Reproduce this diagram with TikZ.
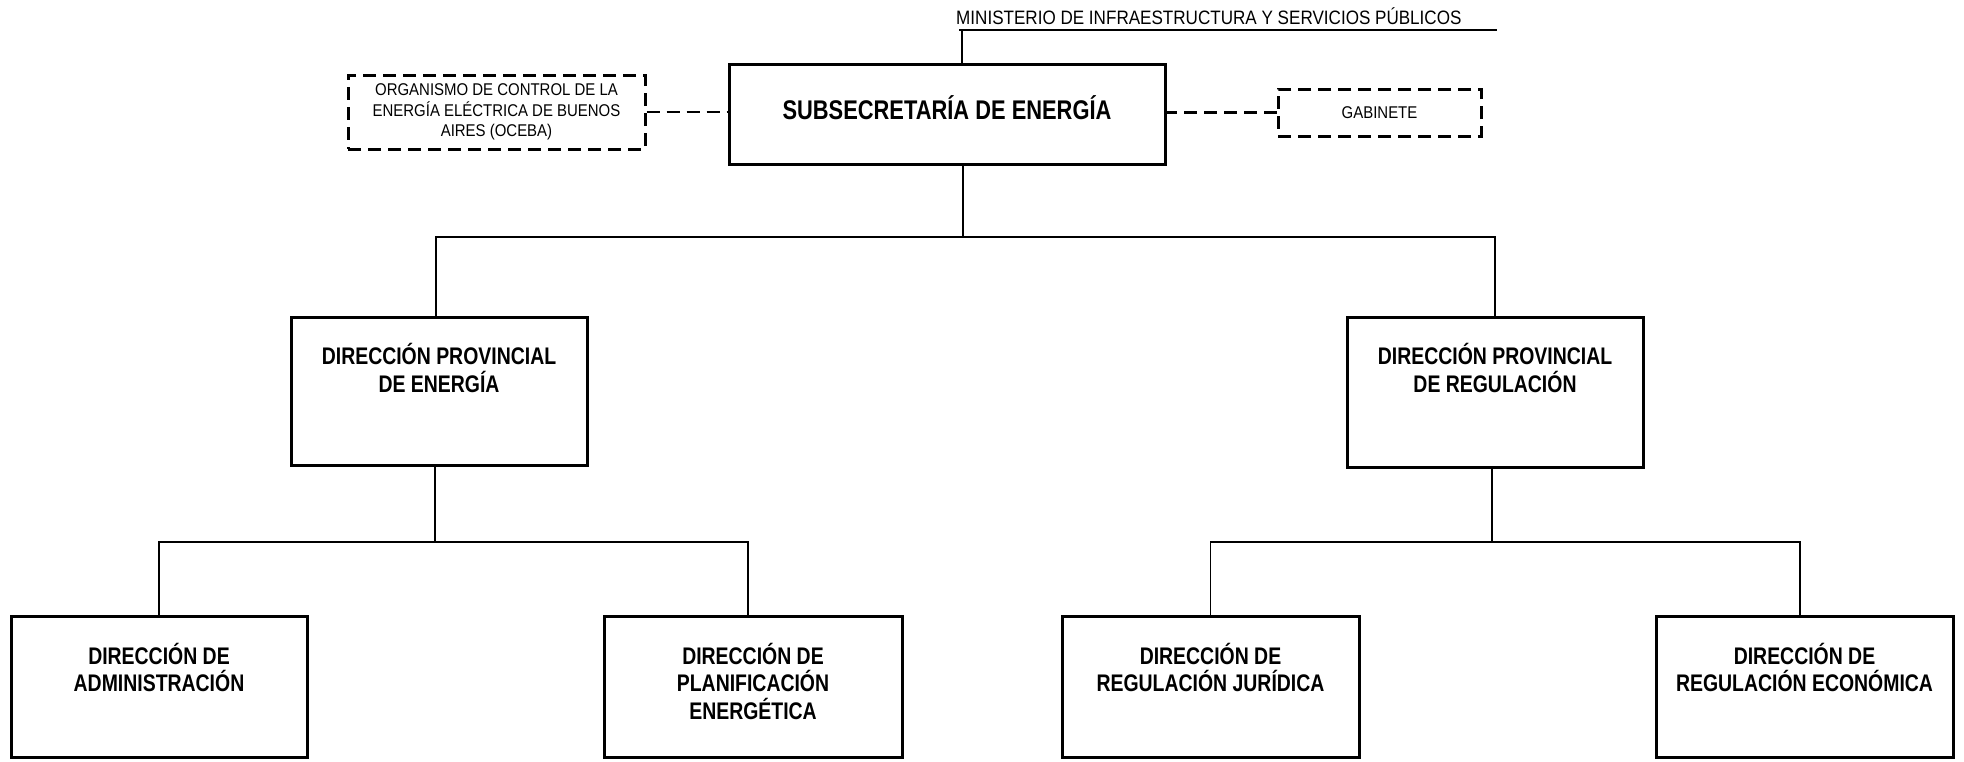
\documentclass[tikz,border=0pt]{standalone}
\usepackage{fontspec}
\setmainfont{Liberation Sans}[FakeStretch=0.88]
\newfontfamily\narrowbold{Liberation Sans}[FakeStretch=0.81]
\usetikzlibrary{positioning}
\tikzset{
    x=1pt, y=-1pt, % one unit is one pixel of the chart, y grows downwards
    link/.style={line width=1.3pt}, % thin lines between the units
    dashlink/.style={line width=2.6pt, dash pattern=on 13pt off 7pt}, % dashed staff lines
    every node/.style={inner sep=0pt}, % no padding round the texts
}

\begin{document}
\begin{tikzpicture}[
                                unit/.style={draw, line width=3pt, fill=white},
                                staff/.style={draw, line width=3pt, dash pattern=on 13pt off 7pt, align=center,
                                    font=\fontsize{17}{20.5}\selectfont},
                                dirbox/.style={unit, minimum width=296pt, minimum height=148pt},
                                subbox/.style={unit, minimum width=296pt, minimum height=141pt},
                                dirtext/.style={align=center, font=\narrowbold\bfseries\fontsize{24}{27.5}\selectfont},
                            ]
                            \useasboundingbox (0,0) rectangle (1964,761);
                            % top level
                            \node[unit, minimum width=436pt, minimum height=100pt, text height=22pt, text depth=12pt,
                                font=\narrowbold\bfseries\fontsize{27}{32}\selectfont] (sub) at (947,114) {SUBSECRETARÍA DE ENERGÍA};
                            \node[staff, minimum width=297pt, minimum height=74pt] (ocb) at (496.5,112)
                                {ORGANISMO DE CONTROL DE LA\\ENERGÍA ELÉCTRICA DE BUENOS\\AIRES (OCEBA)};
                            \node[staff, minimum width=203pt, minimum height=47pt] (gab) at (1379.5,112.5) {GABINETE};
                            \node[anchor=base west, font=\fontsize{19.4}{23}\selectfont] (min) at (956,24)
                                {MINISTERIO DE INFRAESTRUCTURA Y SERVICIOS PÚBLICOS};
                            \coordinate (mina) at (959,30);
                            \coordinate (minb) at (1497,30);
                            \coordinate (minc) at (962,30);
                            % direcciones provinciales
                            \node[dirbox] (dpe) at (439,391) {};
                            \node[dirbox, minimum height=150pt] (dpr) at (1495,392) {};
                            \node[dirtext, below=28pt of dpe.north] (dpet) {DIRECCIÓN PROVINCIAL\\DE ENERGÍA};
                            \node[dirtext, below=28pt of dpr.north] (dprt) {DIRECCIÓN PROVINCIAL\\DE REGULACIÓN};
                            % direcciones
                            \node[subbox] (adm) at (159,687) {};
                            \node[subbox, minimum width=298pt] (pla) at (753,687) {};
                            \node[subbox, minimum width=297pt] (jur) at (1210.5,687) {};
                            \node[subbox, minimum width=297pt] (eco) at (1804.5,687) {};
                            \node[dirtext, below=28pt of adm.north] (admt) {DIRECCIÓN DE\\ADMINISTRACIÓN};
                            \node[dirtext, below=28pt of pla.north] (plat) {DIRECCIÓN DE\\PLANIFICACIÓN\\ENERGÉTICA};
                            \node[dirtext, below=28pt of jur.north] (jurt) {DIRECCIÓN DE\\REGULACIÓN JURÍDICA};
                            \node[dirtext, below=28pt of eco.north] (ecot) {DIRECCIÓN DE\\REGULACIÓN ECONÓMICA};
                            % branch points
                            \coordinate (j0) at (963,237);
                            \coordinate (j1) at (435,542);
                            \coordinate (j2) at (1492,542);
                            \draw[link]
                            (mina) -- (minb)
                            (minc) -- (minc |- sub.north)
                            (sub.south -| j0) -- (j0)
                            (j0) -| ([xshift=-3pt]dpe.north)
                            (j0) -| (dpr.north)
                            (dpe.south -| j1) -- (j1)
                            (j1) -| (adm.north)
                            (j1) -| ([xshift=-5pt]pla.north)
                            (dpr.south -| j2) -- (j2)
                            (j2) -| (jur.north)
                            (j2) -| ([xshift=-4.5pt]eco.north);
                            \draw[dashlink]
                            (ocb.east) -- (ocb.east -| sub.west)
                            (gab.west) -- (gab.west -| sub.east);
                        \end{tikzpicture}
\end{document}
